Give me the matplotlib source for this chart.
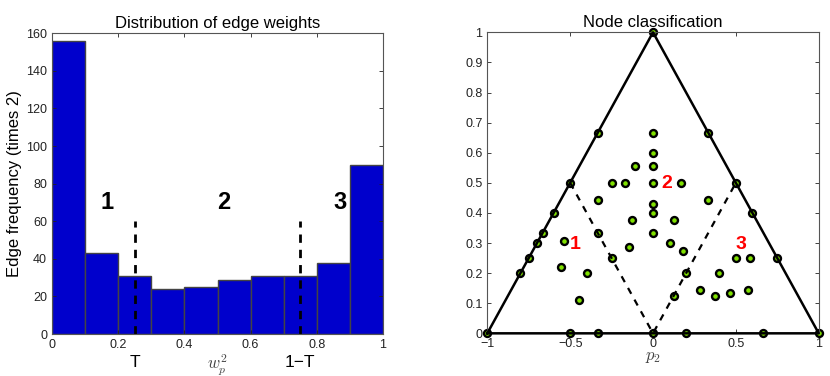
import matplotlib
matplotlib.use("Agg")
import matplotlib.pyplot as plt
import numpy as np

plt.rcParams['font.family'] = ['Liberation Sans', 'DejaVu Sans']
plt.rcParams['mathtext.fontset'] = 'cm'

# histogram data
bin_edges = [0.0, 0.1, 0.2, 0.3, 0.4, 0.5, 0.6, 0.7, 0.8, 0.9, 1.0]
counts = [156, 43, 31, 24, 25, 29, 31, 31, 38, 90]
thresholds = [0.25, 0.75]
threshold_height = 60
region_labels = ["1", "2", "3"]
region_x = [0.166, 0.52, 0.87]
region_y = [70, 70, 70]

# triangle (node classification)
tri_x = [-1, 0, 1, -1]
tri_y = [0, 1, 0, 0]
dash_x = [-0.5, 0, 0.5]
dash_y = [0.5, 0, 0.5]
node_x = [-1, -0.8, -0.75, -0.7, -2/3, -0.6, -0.5, -1/3, 0,
          1/3, 0.5, 0.6, 0.75, 1,
          -0.5, -1/3, 0, 0.2, 2/3,
          0, 0, 0, -1/9, -0.25, -1/6, 0, 1/6, -1/3, 0, 0, -0.125, 0.125,
          -1/3, 0, -1/7, 0.1, 0.182, -0.25, 0.2, 0.125,
          -0.538, -0.556, -0.4, -0.444,
          1/3, 0.5, 0.583, 0.4, 0.286, 0.375, 0.467, 0.571]
node_y = [0, 0.2, 0.25, 0.3, 1/3, 0.4, 0.5, 2/3, 1,
          2/3, 0.5, 0.4, 0.25, 0,
          0, 0, 0, 0, 0,
          2/3, 0.6, 5/9, 5/9, 0.5, 0.5, 0.5, 0.5, 4/9, 3/7, 0.4, 0.375, 0.375,
          1/3, 1/3, 2/7, 0.3, 0.273, 0.25, 0.2, 0.125,
          0.308, 0.222, 0.2, 0.111,
          4/9, 0.25, 0.25, 0.2, 1/7, 0.125, 2/15, 1/7]
class_labels = ["1", "2", "3"]
class_x = [-0.467, 0.082, 0.531]
class_y = [0.296, 0.498, 0.296]

fig = plt.figure(figsize=(8.3, 3.76), dpi=100)
ax1 = fig.add_axes([0.0627, 0.1117, 0.3988, 0.7997])
ax2 = fig.add_axes([0.5871, 0.1135, 0.3993, 0.8005])

for ax in (ax1, ax2):
    ax.tick_params(direction='in', top=True, right=True, labelsize=9, length=3,
                   width=0.6, colors='#222222')
    for s in ax.spines.values():
        s.set_color('#555555')
        s.set_linewidth(0.8)

# left: histogram
widths = np.diff(bin_edges)
ax1.bar(bin_edges[:-1], counts, width=widths, align='edge', color='#0000cc',
        edgecolor='#444444', linewidth=1.0)
for t in thresholds:
    ax1.plot([t, t], [0, threshold_height], '--', color='black', lw=2, dashes=(3, 2.5))
for lab, x, y in zip(region_labels, region_x, region_y):
    ax1.text(x, y, lab, fontsize=17, fontweight='bold', ha='center', va='center')
ax1.set_xlim(0, 1)
ax1.set_ylim(0, 160)
ax1.set_xticks([0, 0.2, 0.4, 0.6, 0.8, 1])
ax1.set_xticklabels(['0', '0.2', '0.4', '0.6', '0.8', '1'])
ax1.set_yticks(range(0, 161, 20))
ax1.set_title("Distribution of edge weights", fontsize=12, pad=4)
ax1.set_ylabel("Edge frequency (times 2)", fontsize=12, labelpad=3)
ax1.text(thresholds[0], -0.095, "T", transform=ax1.get_xaxis_transform(),
         ha='center', va='center', fontsize=12.5)
ax1.text(thresholds[1], -0.095, "1\u2212T", transform=ax1.get_xaxis_transform(),
         ha='center', va='center', fontsize=12.5)
ax1.text(0.5, -0.1, r"$w_p^2$", transform=ax1.get_xaxis_transform(),
         ha='center', va='center', fontsize=12, color='#444444')

# right: triangle
ax2.plot(node_x, node_y, 'o', ms=5, mfc='#7fe000', mec='black', mew=1.7, zorder=2)
ax2.plot(tri_x, tri_y, '-', color='black', lw=1.8, zorder=3)
ax2.plot(dash_x, dash_y, '--', color='black', lw=1.6, dashes=(3, 3), zorder=3)
for lab, x, y in zip(class_labels, class_x, class_y):
    ax2.text(x, y, lab, color='red', fontsize=14, fontweight='bold',
             ha='center', va='center', zorder=4)
ax2.set_xlim(-1, 1)
ax2.set_ylim(0, 1)
ax2.set_xticks([-1, -0.5, 0, 0.5, 1])
ax2.set_xticklabels(['\u22121', '\u22120.5', '0', '0.5', '1'])
ax2.set_yticks(np.arange(0, 1.01, 0.1))
ax2.set_yticklabels(['0', '0.1', '0.2', '0.3', '0.4', '0.5', '0.6', '0.7', '0.8', '0.9', '1'])
ax2.set_title("Node classification", fontsize=12, pad=4)
ax2.set_xlabel(r"$p_2$", fontsize=12, labelpad=0, color='#444444')
for p in [ax1, ax2]:
    for m in p.get_lines():
        m.set_clip_on(False)

fig.savefig("out.png", dpi=100)
